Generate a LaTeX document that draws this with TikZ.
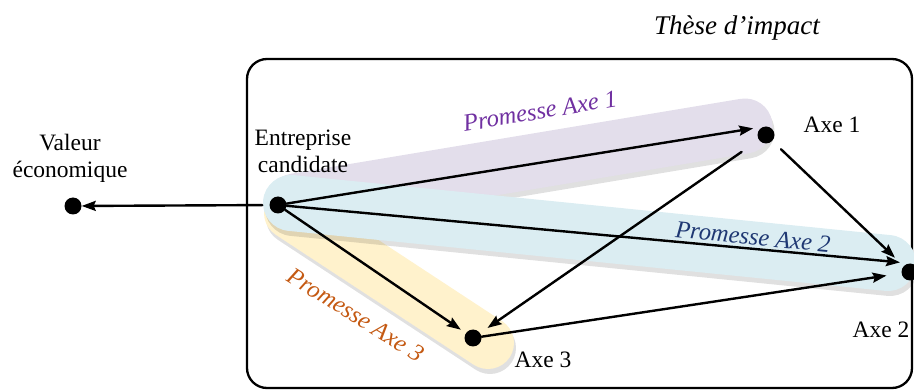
\documentclass[tikz,border=0pt]{standalone}
\usepackage{fontspec}
\setmainfont{Liberation Serif}
\usepackage{tikz}
\usetikzlibrary{calc}
\usetikzlibrary{arrows.meta}
\definecolor{vvqqcc}{rgb}{0.44,0.19,0.63}
\definecolor{qqwwxx}{rgb}{0.12,0.22,0.45}
\definecolor{ccxxqq}{rgb}{0.77,0.35,0.07}
\definecolor{eeddee}{rgb}{0.89,0.87,0.92}
\definecolor{ddeeff}{rgb}{0.86,0.93,0.95}
\definecolor{ffeecc}{rgb}{1.,0.95,0.80}
\tikzstyle{every node}=[font=\fontsize{23.5}{27}\selectfont]
\tikzstyle{point}=[circle,fill=black,inner sep=0pt,minimum size=17pt]
\tikzstyle{fleche}=[->,line width=2.4pt]
\tikzstyle{ombre}=[color=black,opacity=0.12]

\begin{document}
\begin{tikzpicture}[line cap=round,line join=round,>={Stealth[length=14pt,width=10pt,inset=2pt]},x=1pt,y=-1pt]
            \useasboundingbox (0,0) rectangle (914,390);
            \draw [line width=2.3pt,rounded corners=20pt] (247,59) rectangle (912,388);
            \node (these) at (737,28) {\fontsize{27}{30}\selectfont\itshape Thèse d'impact};
            % bandes des promesses
            \draw [ombre,line width=55pt,shift={(2,5)}] (295,201) -- (745,126);
            \draw [line width=55pt,color=eeddee] (295,201) -- (745,126);
            \draw [ombre,line width=52pt,shift={(2,5)}] (290,213) -- (488,343);
            \draw [line width=52pt,color=ffeecc] (290,213) -- (488,343);
            \draw [ombre,line width=56pt,shift={(2,5)}] (291,203) -- (888,263);
            \draw [line width=56pt,color=ddeeff] (291,203) -- (888,263);
            \node [rotate=9.5,text=vvqqcc,font=\fontsize{24.5}{28}\selectfont] (promesse1) at (540,111) {\itshape Promesse Axe 1};
            \node [rotate=-5.5,text=qqwwxx,font=\fontsize{24.5}{28}\selectfont] (promesse2) at (753,237) {\itshape Promesse Axe 2};
            \node [rotate=-32,text=ccxxqq,font=\fontsize{24.5}{28}\selectfont] (promesse3) at (356,315) {\itshape Promesse Axe 3};
            % points
            \node [point] (valeur) at (73,206) {};
            \node [point] (entreprise) at (278,205) {};
            \node [point] (axe1) at (766,135) {};
            \node [point] (axe2) at (910,272) {};
            \node [point] (axe3) at (473,338) {};
            \node [align=center] (labelvaleur) at (70,158) {Valeur\\économique};
            \node [align=center] (labelentreprise) at (303,151) {Entreprise\\candidate};
            \node (labelaxe1) at (832,125) {Axe 1};
            \node (labelaxe2) at (881,330) {Axe 2};
            \node (labelaxe3) at (543,360) {Axe 3};
            % fleches
            \draw [fleche,shorten <=7pt] (entreprise) -- (valeur);
            \draw [fleche,shorten >=13pt] (entreprise) -- (axe1.north);
            \draw [fleche,shorten >=10pt] (entreprise) -- (axe2.north);
            \draw [fleche,shorten >=6pt] (entreprise) -- (axe3);
            \draw [fleche,shorten <=12pt,shorten >=12pt] (axe1) -- (axe2);
            \draw [fleche,shorten <=21pt,shorten >=9pt] (axe1) -- (axe3);
            \draw [fleche,shorten >=15pt] (axe3) -- (axe2);
\end{tikzpicture}
\end{document}
